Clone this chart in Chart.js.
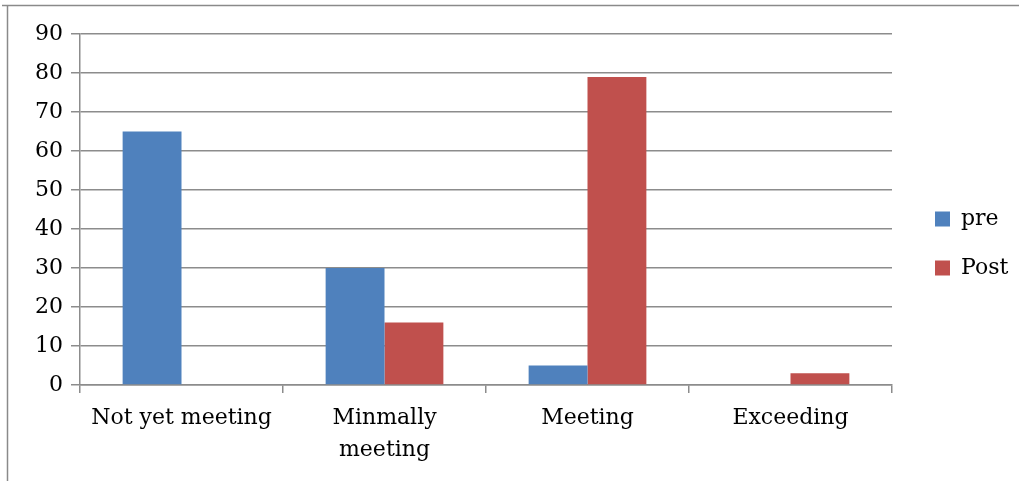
<!DOCTYPE html>
<html>
<head>
<meta charset="utf-8">
<script src="https://cdn.jsdelivr.net/npm/chart.js@4/dist/chart.umd.min.js"></script>
<style>
  html, body { margin: 0; padding: 0; background: #fff; }
  #wrap { width: 1019px; height: 481px; position: relative; }
</style>
</head>
<body>
<div id="wrap"><canvas id="c" width="1019" height="481"></canvas></div>
<script>
// Survey levels and the share of respondents at each level
const categories = ['Not yet meeting', ['Minmally', 'meeting'], 'Meeting', 'Exceeding'];
const preValues = [65, 30, 5, 0];
const postValues = [0, 16, 79, 3];
const yTicks = [0, 10, 20, 30, 40, 50, 60, 70, 80, 90];

const FONT = 'DejaVu Serif';
const FONT_SIZE = 22;
const AXIS_GRAY = '#8c8c8c';

// Thin frame around the chart
const framePlugin = {
  id: 'frame',
  beforeDraw(chart) {
    const ctx = chart.ctx;
    ctx.save();
    ctx.strokeStyle = '#8a8a8a';
    ctx.lineWidth = 1.5;
    ctx.beginPath();
    ctx.moveTo(2, 5.5);
    ctx.lineTo(1019, 5.5);
    ctx.moveTo(7.5, 5);
    ctx.lineTo(7.5, 481);
    ctx.stroke();
    ctx.restore();
  }
};

// Keep the plot's right edge a fixed distance from the canvas edge,
// then sit the legend a small gap to the right of the plot, lifted a little
const PLOT_RIGHT_MARGIN = 127;
const LEGEND_GAP = 16;
const LEGEND_LIFT = 28;
const placementPlugin = {
  id: 'placement',
  afterLayout(chart) {
    if (!chart.$fixedRight) {
      chart.$fixedRight = true;
      const diff = chart.chartArea.right - (chart.width - PLOT_RIGHT_MARGIN);
      if (Math.abs(diff) > 0.5) {
        chart.options.layout.padding.right += diff;
        chart.update('none');
        return;
      }
    }
    const lg = chart.legend;
    if (!lg) return;
    const dx = chart.chartArea.right + LEGEND_GAP - lg.left;
    lg.left += dx;
    lg.right += dx;
    lg.bottom -= LEGEND_LIFT;
    lg.height = lg.bottom - lg.top;
  }
};

new Chart(document.getElementById('c'), {
  type: 'bar',
  data: {
    labels: categories,
    datasets: [
      { label: 'pre', data: preValues, backgroundColor: '#4F81BD' },
      { label: 'Post', data: postValues, backgroundColor: '#C0504D' }
    ]
  },
  options: {
    responsive: false,
    animation: false,
    layout: { padding: { top: 34, left: 0, right: 16, bottom: 0 } },
    datasets: { bar: { categoryPercentage: 0.58, barPercentage: 1.0 } },
    plugins: {
      tooltip: { enabled: false },
      legend: {
        position: 'right',
        align: 'center',
        labels: {
          boxWidth: 15,
          boxHeight: 15,
          padding: 27,
          color: '#000',
          font: { family: FONT, size: FONT_SIZE }
        }
      }
    },
    scales: {
      x: {
        afterFit(s) { s.height = 96; },
        grid: {
          offset: true,
          drawOnChartArea: false,
          drawTicks: true,
          tickLength: 8,
          color: AXIS_GRAY,
          lineWidth: 1.5
        },
        border: { color: AXIS_GRAY, width: 1.5 },
        ticks: {
          color: '#000',
          padding: 9,
          maxRotation: 0,
          autoSkip: false,
          font: { family: FONT, size: FONT_SIZE, lineHeight: 1.45 }
        }
      },
      y: {
        min: 0,
        max: 90,
        afterFit(s) { s.width = 80; },
        afterBuildTicks(s) { s.ticks = yTicks.map(v => ({ value: v })); },
        grid: {
          color: AXIS_GRAY,
          lineWidth: 1.5,
          tickLength: 9
        },
        border: { color: AXIS_GRAY, width: 1.5 },
        ticks: {
          color: '#000',
          padding: 8,
          font: { family: FONT, size: FONT_SIZE }
        }
      }
    }
  },
  plugins: [framePlugin, placementPlugin]
});
</script>
</body>
</html>
